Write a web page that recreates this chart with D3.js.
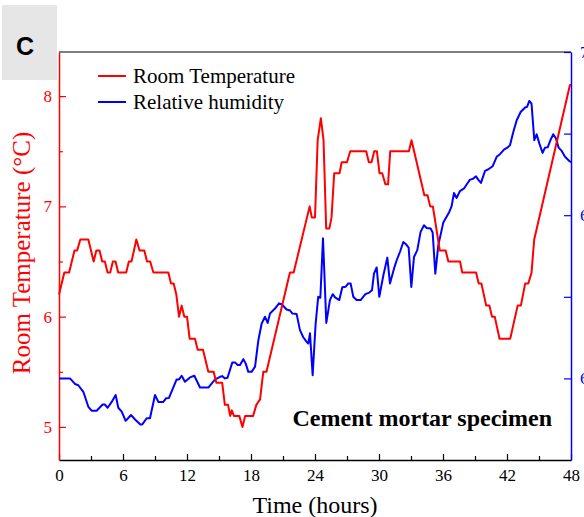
<!DOCTYPE html>
<html><head><meta charset="utf-8">
<script src="https://cdn.jsdelivr.net/npm/d3@7"></script>
<style>html,body{margin:0;padding:0;background:#fff;overflow:hidden}</style>
</head><body>
<svg id="chart" width="584" height="517"></svg>
<script>
// ---- data ----
const tempTime = [0,0.5,0.95,1.45,1.7,2.0,2.75,3.25,3.5,3.8,4.05,4.3,4.55,4.8,5.05,5.3,5.55,6.3,6.55,6.8,7.25,7.55,8.0,8.25,8.55,8.85,10.25,10.5,10.75,11.0,11.25,11.5,11.75,12.0,12.25,12.75,13.0,13.5,14.0,14.5,14.75,15.3,15.55,15.85,16.05,16.2,16.4,16.9,17.2,17.45,18.2,18.5,18.85,19.15,19.45,21.65,22.0,23.5,23.7,24.0,24.25,24.55,24.8,25.05,25.35,25.55,25.8,26.3,26.5,27.0,27.3,28.8,29.05,29.3,29.55,29.8,30.05,30.3,30.6,30.85,31.05,32.8,33.05,34.25,34.55,34.8,35.05,35.7,36.25,36.5,37.6,37.8,39.1,39.35,39.6,40.05,40.35,40.6,40.85,41.3,42.3,43.0,43.3,43.7,44.0,44.3,44.55,47.9,48.0];
const tempValues = [6.2,6.4,6.4,6.6,6.6,6.7,6.7,6.5,6.6,6.6,6.5,6.5,6.4,6.4,6.5,6.5,6.4,6.4,6.5,6.5,6.7,6.6,6.6,6.5,6.5,6.4,6.4,6.3,6.3,6.2,6.0,6.1,6.0,6.0,5.8,5.8,5.7,5.7,5.5,5.5,5.4,5.4,5.2,5.2,5.1,5.15,5.1,5.1,5.0,5.1,5.1,5.2,5.25,5.5,5.5,6.4,6.4,7.0,6.9,6.9,7.6,7.8,7.6,6.8,6.8,6.9,7.3,7.3,7.4,7.4,7.5,7.5,7.4,7.4,7.5,7.5,7.3,7.3,7.2,7.2,7.5,7.5,7.6,7.1,7.1,7.0,7.0,6.6,6.6,6.5,6.5,6.4,6.4,6.3,6.3,6.1,6.1,6.0,6.0,5.8,5.8,6.1,6.1,6.3,6.3,6.4,6.7,8.1,8.1];
const humidTime = [0,1.03,1.5,1.81,2.28,2.75,3.06,3.53,4.09,4.3,4.56,4.94,5.31,5.56,5.88,6.25,6.75,7.13,7.63,7.81,8.22,8.53,9.0,9.31,9.78,10.03,10.31,11.03,11.25,11.5,11.81,12.28,12.69,13.22,14.0,14.63,15.1,15.3,15.56,15.8,16.25,16.5,16.75,16.97,17.28,17.5,17.75,18.06,18.38,18.69,19.0,19.31,19.56,19.78,20.25,20.63,20.88,21.34,21.66,21.87,22.28,22.59,22.9,23.22,23.37,23.53,23.78,24.06,24.3,24.5,24.75,25.06,25.4,25.66,25.88,26.28,26.56,26.88,27.12,27.34,27.59,27.9,28.28,28.72,29.09,29.34,29.53,29.78,30.03,30.41,30.78,31.03,31.41,31.66,31.97,32.28,32.53,32.78,33.03,33.28,33.59,33.9,34.22,34.47,34.84,35.03,35.28,35.56,36.03,36.59,36.81,37.03,37.28,37.59,37.97,38.28,38.53,38.78,39.09,39.3,39.56,39.94,40.22,40.66,41.03,41.34,41.72,42.03,42.28,42.59,42.91,43.28,43.69,43.88,44.09,44.3,44.56,44.78,45.03,45.34,45.56,45.81,46.1,46.34,46.59,46.84,47.13,47.44,47.84,48.0];
const humidValues = [60.0,60.0,59.83,59.79,59.59,59.13,59.01,59.01,59.2,59.2,59.1,59.28,59.49,59.1,58.98,58.7,58.88,58.74,58.59,58.59,58.78,58.78,59.49,59.28,59.28,59.39,59.4,59.97,59.97,60.08,59.9,60.03,60.08,59.72,59.72,59.97,60.05,60.07,60.0,60.02,60.49,60.49,60.41,60.41,60.59,60.46,60.2,60.2,60.36,61.17,61.68,61.89,61.7,61.99,62.14,62.3,62.27,62.11,62.08,61.99,61.97,61.48,61.26,61.12,61.07,61.38,60.1,61.68,62.5,62.47,64.29,61.7,62.4,62.58,62.48,62.4,62.79,62.81,62.91,62.91,62.5,62.4,62.4,62.58,62.63,62.7,63.21,63.4,62.5,63.16,63.7,62.91,63.37,63.62,63.88,64.18,64.11,64.01,62.8,63.72,63.93,64.49,64.69,64.61,64.59,64.47,63.21,64.08,64.78,65.1,65.28,65.68,65.53,65.74,65.82,65.97,66.09,66.11,66.19,66.09,65.99,66.36,66.4,66.5,66.79,66.87,67.01,67.07,67.14,67.55,67.91,68.16,68.3,68.32,68.5,68.42,67.3,67.48,67.2,66.91,67.07,67.08,67.32,67.48,67.35,67.07,66.97,66.79,66.66,66.62];
const timeTicks = [0,6,12,18,24,30,36,42,48];
const timeMinorTicks = [3,9,15,21,27,33,39,45];
const tempTicks = [5,6,7,8];
const tempMinorTicks = [5.5,6.5,7.5];
const humidTicks = [60,65,70];
const humidMinorTicks = [62.5,67.5];
const seriesNames = ["Room Temperature","Relative humidity"];
const seriesColors = ["#ff0000","#0000ff"];
const panelLabel = "C";
const annotation = "Cement mortar specimen";
const xTitle = "Time (hours)";
const yTitle = "Room Temperature (\u00B0C)";

// ---- layout ----
const L = 59, R = 571, T = 52, B = 460;
const serif = "'Liberation Serif','Times New Roman',serif";
const svg = d3.select("#chart");

const x = d3.scaleLinear().domain([0,48]).range([L,R]);
const yT = d3.scaleLinear().domain([4.7,8.4]).range([B,T]);
const yH = d3.scaleLinear().domain([57.5,70]).range([B,T]);

// panel label
svg.append("rect").attr("x",2).attr("y",5).attr("width",55).attr("height",75).attr("fill","#e6e6e6");
svg.append("text").attr("x",25).attr("y",55).attr("text-anchor","middle")
  .attr("font-family","'Liberation Sans',Arial,sans-serif").attr("font-weight","bold").attr("font-size",25)
  .text(panelLabel);

// top border
svg.append("line").attr("x1",L).attr("x2",R).attr("y1",T).attr("y2",T).attr("stroke","#555").attr("stroke-width",1.5);

function styleAxis(g, color, fs){
  g.selectAll("path.domain").attr("stroke",color).attr("stroke-width",1.5);
  g.selectAll(".tick line").attr("stroke",color).attr("stroke-width",1.2);
  g.selectAll("text").attr("fill",color).attr("font-family",serif).attr("font-size",fs);
}

// bottom axis
const gx = svg.append("g").attr("transform",`translate(0,${B})`)
  .call(d3.axisBottom(x).tickValues(timeTicks).tickSize(-6).tickSizeOuter(0).tickPadding(9).tickFormat(d3.format("d")));
styleAxis(gx,"#000",17);
const gxm = svg.append("g").attr("transform",`translate(0,${B})`)
  .call(d3.axisBottom(x).tickValues(timeMinorTicks).tickSize(-4).tickSizeOuter(0).tickFormat(""));
styleAxis(gxm,"#000",17); gxm.select("path.domain").remove();

// left axis
const gy = svg.append("g").attr("transform",`translate(${L},0)`)
  .call(d3.axisLeft(yT).tickValues(tempTicks).tickSize(-7).tickSizeOuter(0).tickPadding(7).tickFormat(d3.format("d")));
styleAxis(gy,"#ff0000",17);
const gym = svg.append("g").attr("transform",`translate(${L},0)`)
  .call(d3.axisLeft(yT).tickValues(tempMinorTicks).tickSize(-4).tickSizeOuter(0).tickFormat(""));
styleAxis(gym,"#ff0000",17); gym.select("path.domain").remove();

// right axis (labels run off the page edge, as in the reference)
const gr = svg.append("g").attr("transform",`translate(${R},0)`)
  .call(d3.axisRight(yH).tickValues(humidTicks).tickSize(-7).tickSizeOuter(0).tickPadding(9).tickFormat(d3.format("d")));
styleAxis(gr,"#0000ff",17);
const grm = svg.append("g").attr("transform",`translate(${R},0)`)
  .call(d3.axisRight(yH).tickValues(humidMinorTicks).tickSize(-7).tickSizeOuter(0).tickFormat(""));
styleAxis(grm,"#0000ff",17); grm.select("path.domain").remove();

// titles
svg.append("text").attr("x",(L+R)/2).attr("y",513).attr("text-anchor","middle")
  .attr("font-family",serif).attr("font-size",24).attr("fill","#000").text(xTitle);
svg.append("text").attr("transform",`translate(30,${(T+B)/2 - 3}) rotate(-90)`).attr("text-anchor","middle")
  .attr("font-family",serif).attr("font-size",25).attr("fill","#ff0000").text(yTitle);

// lines
const humidData = humidTime.map((t,i)=>({t, v: humidValues[i]}));
const tempData = tempTime.map((t,i)=>({t, v: tempValues[i]}));
svg.append("path").datum(humidData).attr("fill","none").attr("stroke",seriesColors[1]).attr("stroke-width",2)
  .attr("stroke-linejoin","round")
  .attr("d", d3.line().x(d=>x(d.t)).y(d=>yH(d.v)));
svg.append("path").datum(tempData).attr("fill","none").attr("stroke",seriesColors[0]).attr("stroke-width",2)
  .attr("stroke-linejoin","round")
  .attr("d", d3.line().x(d=>x(d.t)).y(d=>yT(d.v)));

// legend
seriesNames.forEach((name,i)=>{
  const yy = 76 + i*26;
  svg.append("line").attr("x1",98).attr("x2",126).attr("y1",yy).attr("y2",yy)
    .attr("stroke",seriesColors[i]).attr("stroke-width",2);
  svg.append("text").attr("x",133).attr("y",yy+7).attr("font-family",serif).attr("font-size",21)
    .attr("fill","#000").text(name);
});

// annotation
svg.append("text").attr("x",552).attr("y",426).attr("text-anchor","end")
  .attr("font-family",serif).attr("font-weight","bold").attr("font-size",24).attr("fill","#000").text(annotation);
</script>
</body></html>
